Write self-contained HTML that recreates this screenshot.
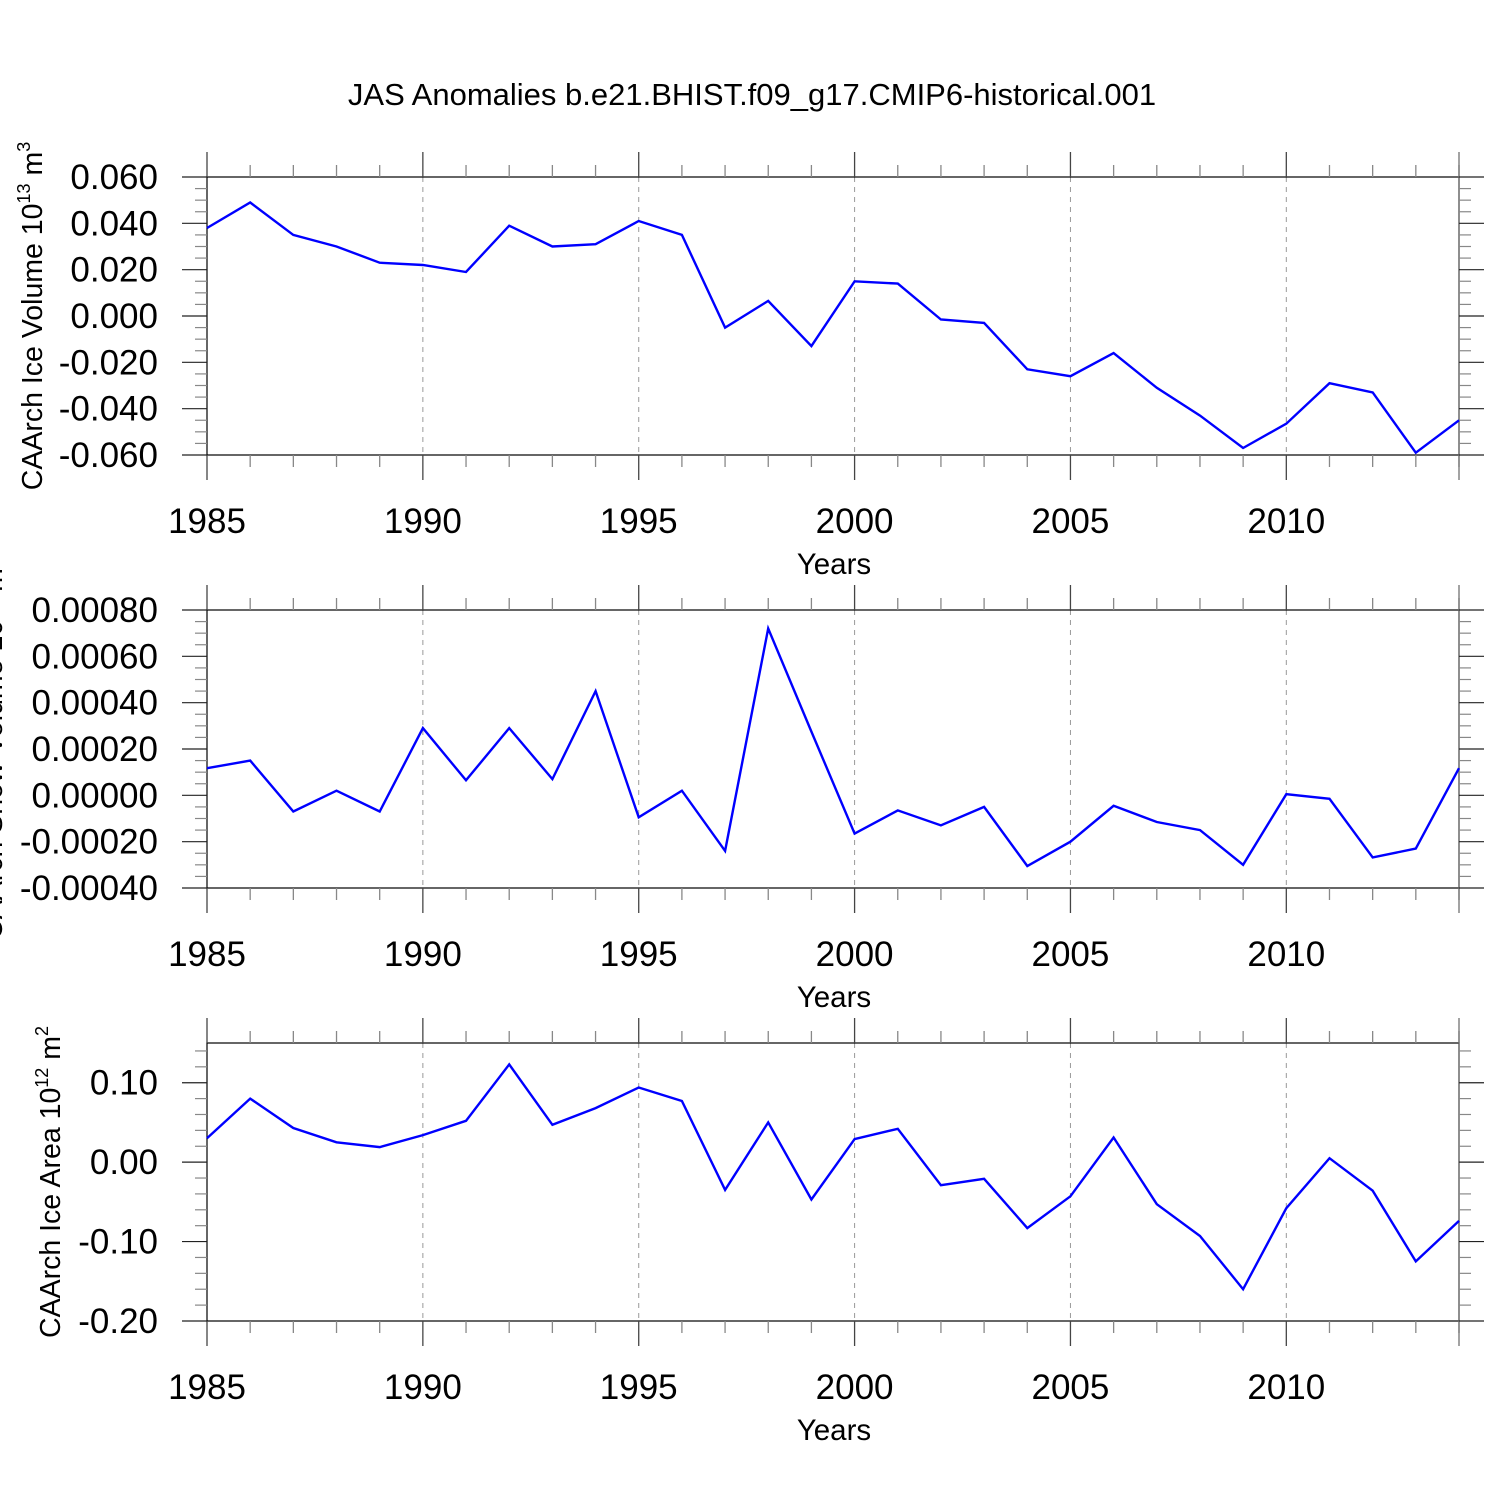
<!DOCTYPE html>
<html><head><meta charset="utf-8"><style>
html,body{margin:0;padding:0;background:#fff;}
svg{display:block;font-family:"Liberation Sans",Arial,sans-serif;}
</style></head>
<body>
<svg id="chart" width="1500" height="1500" viewBox="0 0 1500 1500" xmlns="http://www.w3.org/2000/svg">
<text x="752" y="105" font-size="31" text-anchor="middle">JAS Anomalies b.e21.BHIST.f09_g17.CMIP6-historical.001</text>
</svg>
<script>
const years = [1985,1986,1987,1988,1989,1990,1991,1992,1993,1994,1995,1996,1997,1998,1999,2000,2001,2002,2003,2004,2005,2006,2007,2008,2009,2010,2011,2012,2013,2014];
const iceVolume = [0.038,0.049,0.035,0.030,0.023,0.022,0.019,0.039,0.030,0.031,0.041,0.035,-0.005,0.0065,-0.013,0.015,0.014,-0.0015,-0.003,-0.023,-0.026,-0.016,-0.031,-0.043,-0.057,-0.0465,-0.029,-0.033,-0.059,-0.045];
const snowVolume = [0.000117,0.00015,-0.00007,0.00002,-0.00007,0.00029,0.000065,0.00029,0.00007,0.00045,-0.000095,0.00002,-0.00024,0.00072,0.000275,-0.000165,-0.000065,-0.00013,-0.00005,-0.000305,-0.0002,-0.000045,-0.000115,-0.00015,-0.0003,0.000005,-0.000015,-0.000268,-0.00023,0.000117];
const iceArea = [0.030,0.080,0.043,0.025,0.019,0.034,0.052,0.123,0.047,0.068,0.094,0.077,-0.035,0.050,-0.047,0.029,0.042,-0.029,-0.021,-0.083,-0.043,0.031,-0.053,-0.093,-0.160,-0.058,0.005,-0.036,-0.125,-0.074];
const xTickLabels = ["1985","1990","1995","2000","2005","2010"];
const yTicks1 = ["0.060","0.040","0.020","0.000","-0.020","-0.040","-0.060"];
const yTicks2 = ["0.00080","0.00060","0.00040","0.00020","0.00000","-0.00020","-0.00040"];
const yTicks3 = ["0.10","0.00","-0.10","-0.20"];

const NS="http://www.w3.org/2000/svg";
const svg=document.getElementById('chart');
function mk(tag,attrs,parent){const e=document.createElementNS(NS,tag);for(const k in attrs)e.setAttribute(k,attrs[k]);(parent||svg).appendChild(e);return e;}
const X0=207,X1=1459;
function xs(yr){return X0+(yr-1985)*(X1-X0)/29;}

function panel(o){
  const g=mk('g',{});
  
  
  const ys=v=>o.top+(o.ymax-v)*(o.bot-o.top)/(o.ymax-o.ymin);
  for(let yr=1990;yr<=2010;yr+=5){
    const l=mk('line',{x1:xs(yr),x2:xs(yr),y1:o.top,y2:o.bot,stroke:'#999','stroke-width':1,'stroke-dasharray':'5,5'},g);
    
    
  }
  const f=mk('rect',{x:X0,y:o.top,width:X1-X0,height:o.bot-o.top,fill:'none',stroke:'#000','stroke-width':1.2},g);
  
  
  for(let yr=1985;yr<=2014;yr++){
    const maj=(yr%5===0)||yr===1985;
    const len=maj?25:12;
    const x=xs(yr);
    mk('line',{x1:x,x2:x,y1:o.top-len,y2:o.top,stroke:maj?'#444':'#888','stroke-width':1.3},g);
    mk('line',{x1:x,x2:x,y1:o.bot,y2:o.bot+len,stroke:maj?'#444':'#888','stroke-width':1.3},g);
  }
  mk('line',{x1:X1,x2:X1,y1:o.top-25,y2:o.bot+25,stroke:'#666','stroke-width':1.2},g);
  for(let v=o.ymin;v<=o.ymax+o.minor*0.01;v+=o.minor){
    const y=ys(v);
    const maj=Math.abs(Math.round(v/o.major)*o.major-v)<o.minor*0.1;
    const len=maj?25:12;
    mk('line',{x1:X0-len,x2:X0,y1:y,y2:y,stroke:maj?'#222':'#888','stroke-width':1.2},g);
    mk('line',{x1:X1,x2:X1+len,y1:y,y2:y,stroke:maj?'#222':'#888','stroke-width':1.2},g);
  }
  o.labels.forEach((lab,i)=>{
    const t=mk('text',{x:158,y:ys(o.labelStart-i*o.major)+12,'font-size':35,'text-anchor':'end'},g);
    t.textContent=lab;
    
    
  });
  xTickLabels.forEach(lab=>{
    const t=mk('text',{x:xs(+lab),y:o.bot+78,'font-size':35,'text-anchor':'middle'},g);
    t.textContent=lab;
    
    
  });
  const xt=mk('text',{x:834,y:o.bot+119,'font-size':29.5,'text-anchor':'middle'},g);
  xt.textContent='Years';
  
  
  const cy=(o.top+o.bot)/2;
  const yt=mk('text',{x:o.ylx,y:cy,'font-size':28.5,'text-anchor':'middle',transform:`rotate(-90 ${o.ylx} ${cy})`},g);
  yt.innerHTML=o.ylabel;
  
  
  const pts=o.data.map((v,i)=>xs(years[i]).toFixed(1)+','+ys(v).toFixed(1)).join(' ');
  const pl=mk('polyline',{points:pts,fill:'none',stroke:'#0000ff','stroke-width':2.4,'stroke-linejoin':'miter'},g);
  
  
}
panel({name:'ice-volume-panel',top:177,bot:455,ymin:-0.06,ymax:0.06,major:0.02,minor:0.005,labels:yTicks1,labelStart:0.06,data:iceVolume,ylx:42,
 ylabel:'CAArch Ice Volume 10<tspan font-size="18" dy="-12">13</tspan><tspan dy="12"> m</tspan><tspan font-size="18" dy="-12">3</tspan>'});
panel({name:'snow-volume-panel',top:610,bot:888,ymin:-0.0004,ymax:0.0008,major:0.0002,minor:0.00005,labels:yTicks2,labelStart:0.0008,data:snowVolume,ylx:2,
 ylabel:'CAArch Snow Volume 10<tspan font-size="18" dy="-12">13</tspan><tspan dy="12"> m</tspan><tspan font-size="18" dy="-12">3</tspan>'});
panel({name:'ice-area-panel',top:1043,bot:1321,ymin:-0.2,ymax:0.15,major:0.1,minor:0.02,labels:yTicks3,labelStart:0.1,data:iceArea,ylx:60,
 ylabel:'CAArch Ice Area 10<tspan font-size="18" dy="-12">12</tspan><tspan dy="12"> m</tspan><tspan font-size="18" dy="-12">2</tspan>'});
</script>
</body></html>
